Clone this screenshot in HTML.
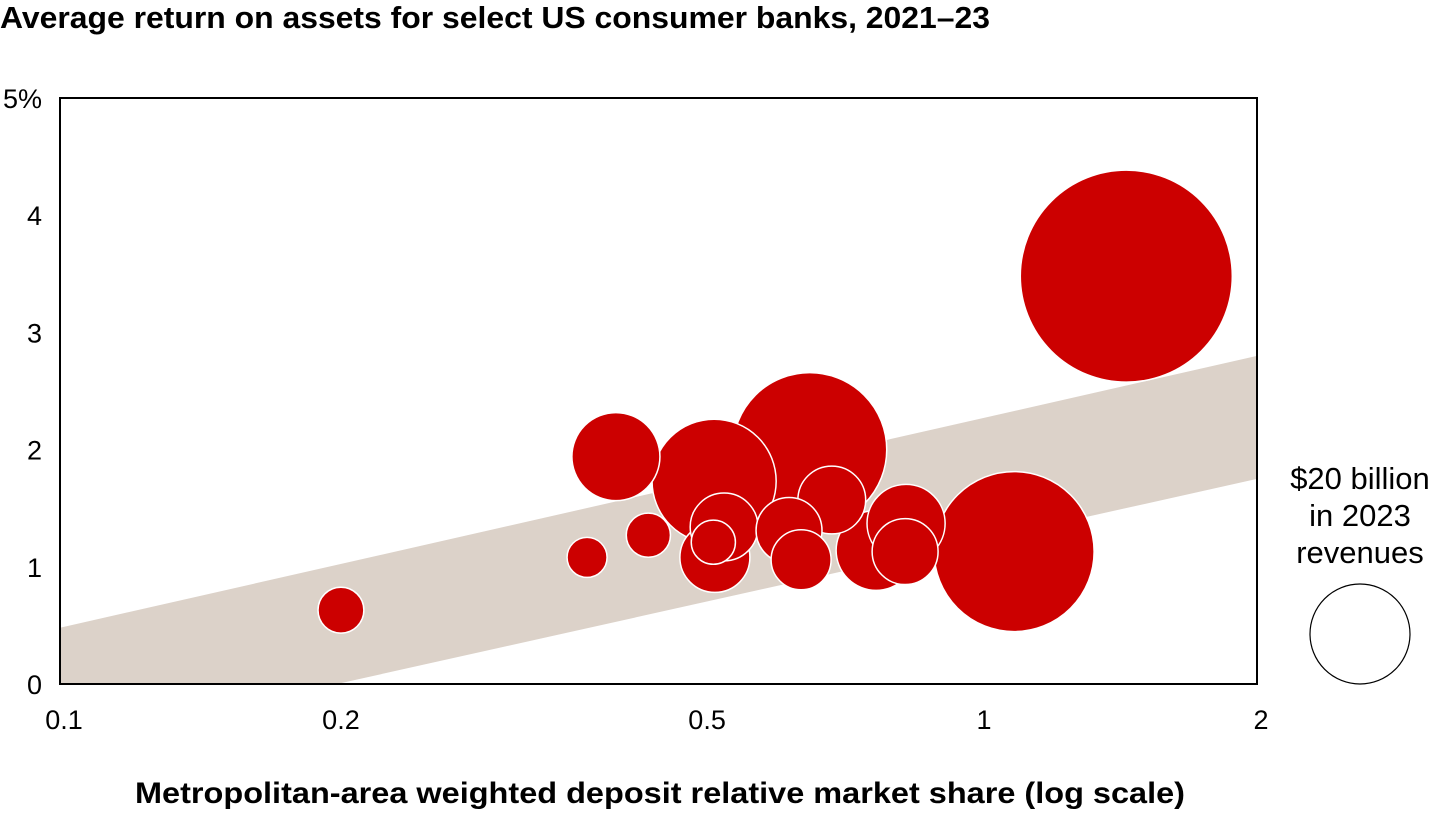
<!DOCTYPE html>
<html><head><meta charset="utf-8"><style>
body{margin:0;background:#fff;width:1440px;height:810px;overflow:hidden;font-family:"Liberation Sans",sans-serif}
</style></head><body>
<svg width="1440" height="810" id="chart">
<text x="0" y="28" font-size="31" font-weight="bold" fill="#000" textLength="990" lengthAdjust="spacingAndGlyphs">Average return on assets for select US consumer banks, 2021–23</text>
<defs><clipPath id="pc"><rect x="60" y="98" width="1197" height="586"/></clipPath></defs>
<g id="band" clip-path="url(#pc)"></g>
<g id="bubbles"></g>
<rect x="60" y="98" width="1197" height="586" fill="none" stroke="#000" stroke-width="2"/>
<g id="yticks" font-size="27" fill="#000"></g>
<g id="xticks" font-size="27" fill="#000"></g>
<text x="660" y="803" font-size="30" font-weight="bold" text-anchor="middle" textLength="1050" lengthAdjust="spacingAndGlyphs">Metropolitan-area weighted deposit relative market share (log scale)</text>
<g font-size="31" text-anchor="middle">
<text x="1360" y="489">$20 billion</text>
<text x="1360" y="526">in 2023</text>
<text x="1360" y="563">revenues</text>
<circle cx="1360" cy="634" r="50" fill="none" stroke="#000" stroke-width="1.2"/>
</g>
</svg>
<script>
const share=[0.202,0.374,0.402,0.436,0.514,0.527,0.515,0.513,0.653,0.620,0.639,0.690,0.771,0.831,0.829,1.089,1.442];
const roa=[0.63,1.08,1.94,1.27,1.73,1.34,1.08,1.21,2.0,1.31,1.06,1.57,1.14,1.37,1.13,1.13,3.48];
const revenue=[4.2,3.2,15.5,3.9,30.8,9.2,9.8,3.9,47.4,8.7,7.2,9.2,12.8,12.2,8.7,51.2,89.9];
const xTicks=[0.1,0.2,0.5,1,2];
const xTickLabels=["0.1","0.2","0.5","1","2"];
const yTicks=[0,1,2,3,4,5];
const yTickLabels=["0","1","2","3","4","5%"];
const bandUpper=[[0.1,0.48],[2,2.80]];
const bandLower=[[0.2,0],[2,1.75]];
const NS="http://www.w3.org/2000/svg";
const X=v=>60+1197*(Math.log10(v)+1)/Math.log10(20);
const Y=v=>684-586*v/5;
const R=v=>50*Math.sqrt(v/20);
function mk(t,a,p){const e=document.createElementNS(NS,t);for(const k in a)e.setAttribute(k,a[k]);p.appendChild(e);return e;}
function lineAt(pts,x){const [a,b]=pts;const la=Math.log10(a[0]),lb=Math.log10(b[0]);return a[1]+(b[1]-a[1])*(Math.log10(x)-la)/(lb-la);}
const bx=[0.08,2.5];
const up=bx.map(x=>[X(x),Y(lineAt(bandUpper,x))]);
const lo=bx.map(x=>[X(x),Y(lineAt(bandLower,x))]);
const band=mk('polygon',{points:[up[0],up[1],lo[1],lo[0]].map(p=>p.join(',')).join(' '),fill:'#dcd2c9'},document.getElementById('band'));


const idx=share.map((_,i)=>i).sort((a,b)=>revenue[b]-revenue[a]);
const g=document.getElementById('bubbles');
idx.forEach(i=>{const c=mk('circle',{cx:X(share[i]),cy:Y(roa[i]),r:R(revenue[i]),fill:'#cc0000',stroke:'#fff','stroke-width':1.5},g);

});
const yg=document.getElementById('yticks');
yTicks.forEach((v,i)=>{const t=mk('text',{x:42,y:Y(v)+10,'text-anchor':'end'},yg);t.textContent=yTickLabels[i];

});
const xg=document.getElementById('xticks');
xTicks.forEach((v,i)=>{const t=mk('text',{x:X(v)+4,y:729,'text-anchor':'middle'},xg);t.textContent=xTickLabels[i];

});
</script>
</body></html>
